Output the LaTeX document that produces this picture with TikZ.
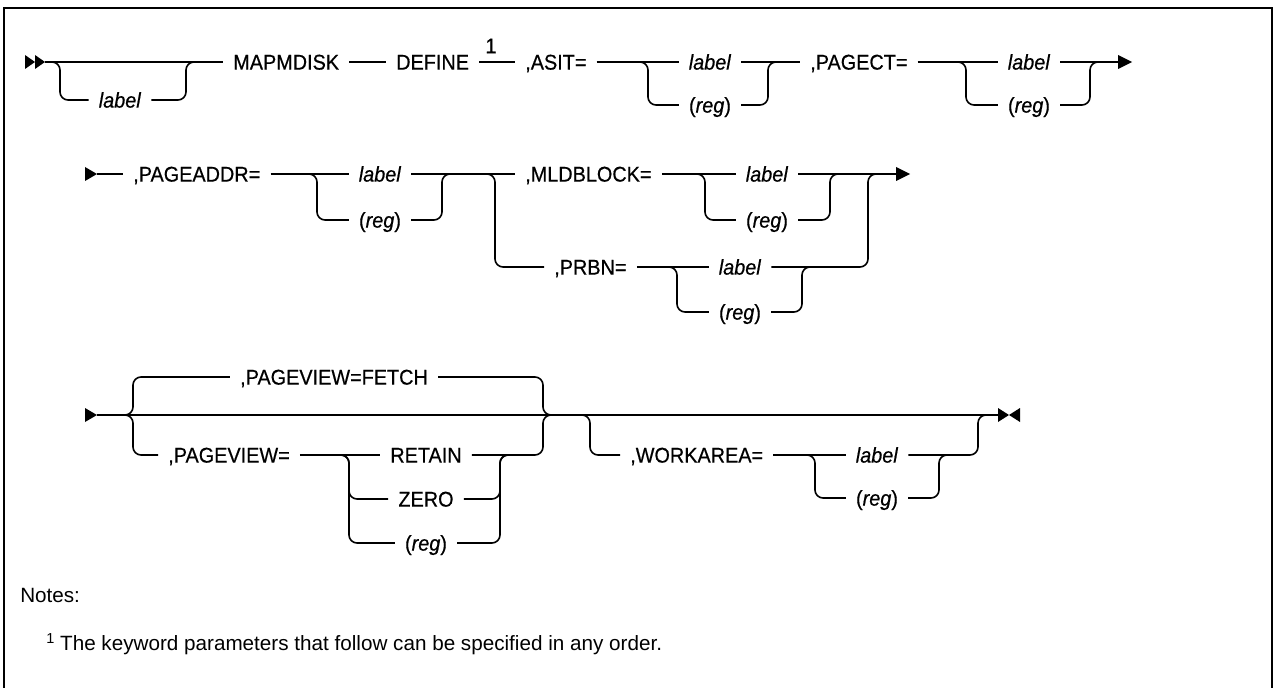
\documentclass[tikz,border=0pt]{standalone}
\usepackage{fontspec}
\setmainfont{Liberation Sans}
\newfontfamily\dfam{Liberation Sans}[FakeBold=0.5, FakeStretch=0.93]
\newcommand\dfont{\dfam\fontsize{16pt}{19pt}\selectfont}
\newcommand\nfont{\fontsize{15.5pt}{18pt}\selectfont}
\begin{document}
\begin{tikzpicture}[x=0.75pt,y=-0.75pt,
  rail/.style={line width=1.2pt, rounded corners=6pt},
  tok/.style={font=\dfont, inner xsep=7.5pt, inner ysep=0pt, text height=11.4pt, text depth=0pt},
  kw/.style={tok, anchor=west},
  tip/.style={fill=black, draw=none},
  frame/.style={line width=1.6pt}]
\useasboundingbox (0,0) rectangle (1274,688);
\draw[frame] (4,688) -- (4,8) -- (1272,8) -- (1272,688);

% ---------------- line 1 ----------------
\coordinate (s1) at (45,62);
\fill[tip] (25,55) -- (35,62) -- (25,69) -- cycle;
\fill[tip] (35,55) -- (45,62) -- (35,69) -- cycle;
\node[tok] (l1) at (120,100) {\textit{label}};
\node[kw] (mapm) at (223,62) {MAPMDISK};
\node[kw] (def) at (386,62) {DEFINE};
\node[kw] (asit) at (515,62) {,ASIT=};
\node[font=\dfont, inner sep=0pt] (fn1) at (491,46) {1};
\coordinate (b1a) at (52,62);
\coordinate (b1b) at (186,62);
\draw[rail] (s1) -- (mapm);
\draw[rail] (b1a) -| (60,100) -- (l1.west);
\draw[rail] (l1.east) -| (b1b) -- (194,62);
\draw[rail] (mapm) -- (def);
\draw[rail] (def) -- (asit);

\node[tok] (a1l) at (710,62) {\textit{label}};
\node[tok] (a1r) at (710,105) {(\textit{reg})};
\node[kw] (pgct) at (800,62) {,PAGECT=};
\coordinate (a1s) at (640,62);
\coordinate (a1e) at (768,62);
\draw[rail] (asit) -- (a1l);
\draw[rail] (a1l) -- (pgct);
\draw[rail] (a1s) -| (648,105) -- (a1r.west);
\draw[rail] (a1r.east) -| (a1e) -- (776,62);

\node[tok] (p1l) at (1029,62) {\textit{label}};
\node[tok] (p1r) at (1029,105) {(\textit{reg})};
\coordinate (p1s) at (958,62);
\coordinate (p1e) at (1090,62);
\coordinate (e1) at (1120,62);
\draw[rail] (pgct) -- (p1l);
\draw[rail] (p1s) -| (966,105) -- (p1r.west);
\draw[rail] (p1r.east) -| (p1e) -- (1098,62);
\draw[rail] (p1l) -- (e1);
\fill[tip] (1118,55) -- (1132,62) -- (1118,69) -- cycle;

% ---------------- line 2 ----------------
\coordinate (s2) at (97,174);
\fill[tip] (85,167) -- (97,174) -- (85,181) -- cycle;
\node[kw] (padr) at (123,174) {,PAGEADDR=};
\node[tok] (q2l) at (380,174) {\textit{label}};
\node[tok] (q2r) at (380,220) {(\textit{reg})};
\node[kw] (mld) at (515,174) {,MLDBLOCK=};
\node[kw] (prbn) at (544,267) {,PRBN=};
\coordinate (q2s) at (309,174);
\coordinate (q2e) at (442,174);
\coordinate (sp2) at (487,174);
\draw[rail] (s2) -- (padr);
\draw[rail] (padr) -- (q2l);
\draw[rail] (q2l) -- (mld);
\draw[rail] (q2s) -| (317,220) -- (q2r.west);
\draw[rail] (q2r.east) -| (q2e) -- (450,174);
\draw[rail] (sp2) -| (495,267) -- (prbn.west);

\node[tok] (m2l) at (767,174) {\textit{label}};
\node[tok] (m2r) at (767,220) {(\textit{reg})};
\coordinate (m2s) at (697,174);
\coordinate (m2e) at (830,174);
\coordinate (e2) at (897,174);
\draw[rail] (mld) -- (m2l);
\draw[rail] (m2l) -- (e2);
\draw[rail] (m2s) -| (705,220) -- (m2r.west);
\draw[rail] (m2r.east) -| (m2e) -- (838,174);
\fill[tip] (896,167) -- (910,174) -- (896,181) -- cycle;

\node[tok] (r2l) at (740,267) {\textit{label}};
\node[tok] (r2r) at (740,312) {(\textit{reg})};
\coordinate (r2s) at (669,267);
\coordinate (r2e) at (802,267);
\coordinate (o2) at (868,174);
\draw[rail] (prbn) -- (r2l);
\draw[rail] (r2s) -| (677,312) -- (r2r.west);
\draw[rail] (r2r.east) -| (r2e) -- (810,267);
\draw[rail] (r2l.east) -| (o2) -- (876,174);

% ---------------- line 3 ----------------
\coordinate (s3) at (97,415);
\coordinate (e3) at (998,415);
\fill[tip] (85,408) -- (97,415) -- (85,422) -- cycle;
\draw[rail] (s3) -- (e3);
\coordinate (g3a) at (125,415);
\coordinate (g3b) at (551,415);
\node[tok] (fetch) at (334,377) {,PAGEVIEW=FETCH};
\node[kw] (pv) at (158,455) {,PAGEVIEW=};
\draw[rail] (g3a) -| (133,377) -- (fetch.west);
\draw[rail] (fetch.east) -| (543,415) -- (g3b);
\draw[rail] (g3a) -| (133,455) -- (pv.west);

\node[tok] (ret) at (426,455) {RETAIN};
\node[tok] (zero) at (426,499) {ZERO};
\node[tok] (preg) at (426,543) {(\textit{reg})};
\coordinate (v3s) at (341,455);
\coordinate (v3e) at (500,455);
\draw[rail] (pv) -- (ret);
\draw[rail] (ret.east) -| (543,415) -- (g3b);
\draw[rail] (v3s) -| (349,499) -- (zero.west);
\draw[rail] (v3s) -| (349,543) -- (preg.west);
\draw[rail] (zero.east) -| (v3e) -- (508,455);
\draw[rail] (preg.east) -| (v3e) -- (508,455);

\node[kw] (wa) at (620,455) {,WORKAREA=};
\node[tok] (w3l) at (877,455) {\textit{label}};
\node[tok] (w3r) at (877,498) {(\textit{reg})};
\coordinate (w3a) at (582,415);
\coordinate (w3s) at (807,455);
\coordinate (w3e) at (939,455);
\coordinate (w3o) at (978,415);
\draw[rail] (w3a) -| (590,455) -- (wa.west);
\draw[rail] (wa) -- (w3l);
\draw[rail] (w3s) -| (815,498) -- (w3r.west);
\draw[rail] (w3r.east) -| (w3e) -- (947,455);
\draw[rail] (w3l.east) -| (w3o) -- (986,415);
\fill[tip] (998,408) -- (1009,415) -- (998,422) -- cycle;
\fill[tip] (1020,408) -- (1009,415) -- (1020,422) -- cycle;

% ---------------- notes ----------------
\node[font=\nfont, anchor=base west, inner sep=0pt] (notes) at (20,602) {Notes:};
\node[font=\nfont, anchor=base west, inner sep=0pt] (note1) at (46,650)
  {\textsuperscript{1}\hspace{0.25em}The keyword parameters that follow can be specified in any order.};
\end{tikzpicture}
\end{document}
